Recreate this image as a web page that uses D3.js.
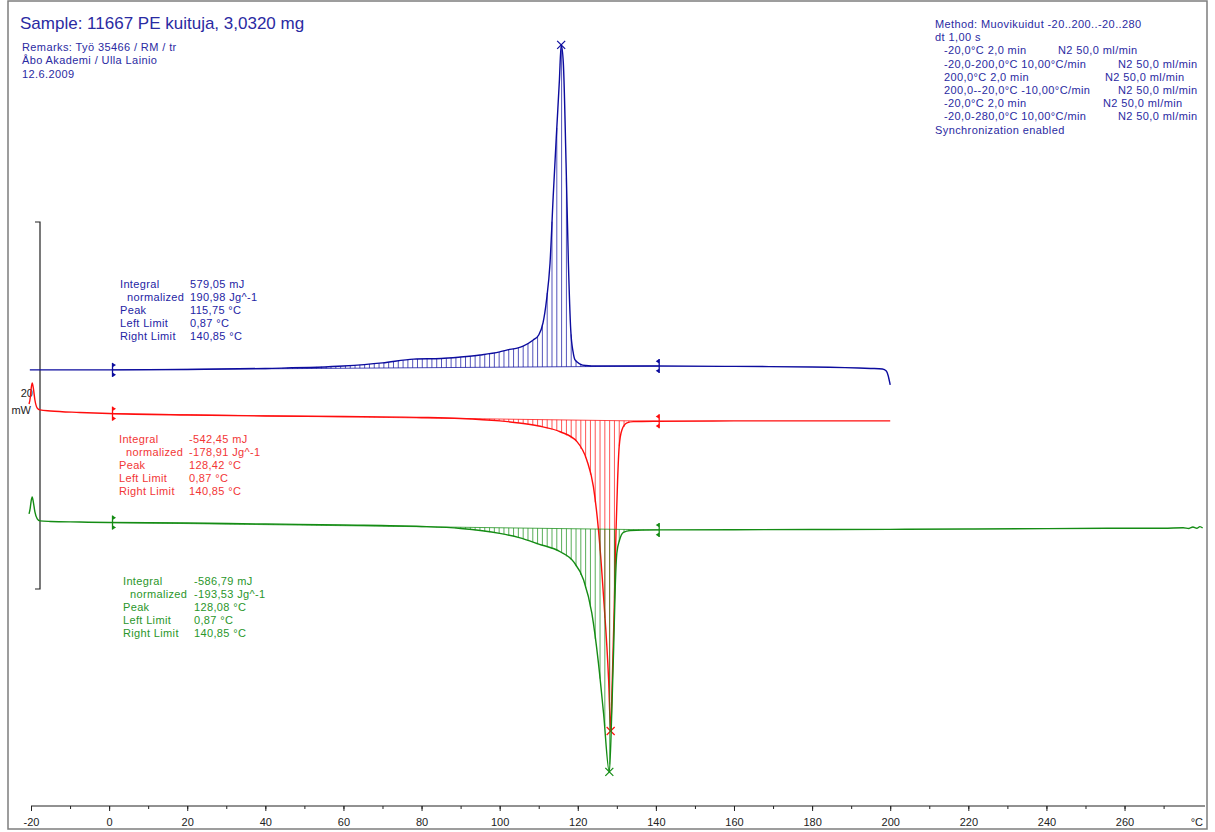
<!DOCTYPE html>
<html>
<head>
<meta charset="utf-8">
<script src="https://cdn.jsdelivr.net/npm/d3@7"></script>
<style>
  body { margin: 0; background: #fff; }
  svg text { font-family: "Liberation Sans", Arial, sans-serif; }
</style>
</head>
<body>
<svg id="chart" width="1215" height="832"></svg>
<script>
// values: temperature in °C, heat flow in mW
// (mW measured on the grid of the 20 mW scale bar, curves keep their offsets)
const blueTemp = [-20.3, -20, 0, 20, 40, 60, 70, 78, 85, 90, 95, 100, 102, 104.5, 106, 108.6, 110, 111.1, 112, 112.9,
  113.7, 114.6, 115.3, 115.75, 116.3, 117.0, 117.6, 118.2, 118.8, 119.3, 120.6, 122, 125, 140, 160, 180, 195, 198, 199, 199.5, 200]
const blueHF = [11.94, 11.94, 11.94, 11.96, 12.02, 12.15, 12.32, 12.53, 12.56, 12.64, 12.75, 12.92, 13.03, 13.13, 13.24, 13.57,
  13.84, 14.50, 15.75, 17.77, 21.36, 25.01, 27.74, 29.65, 28.67, 23.22, 17.77, 14.11, 12.92, 12.48, 12.26, 12.18, 12.15, 12.15,
  12.13, 12.10, 12.02, 11.99, 11.88, 11.61, 11.12]

const redTemp = [-20.5, -20.2, -20, -19.7, -19.4, -19, -18.4, -17.7, -15, -7.5, 0, 20, 40, 60, 80, 90, 100, 105, 110, 115.5,
  119.8, 122.3, 124.0, 125.3, 126.6, 127.9, 128.42, 128.7, 129.3, 129.8, 130.2, 130.6, 131.3, 132.6, 134.2, 140, 160, 180, 200]
const redHF = [10.08, 10.41, 10.85, 11.23, 10.95, 10.30, 9.86, 9.76, 9.70, 9.62, 9.56, 9.48, 9.43, 9.40, 9.35, 9.29, 9.16, 9.05,
  8.88, 8.57, 8.03, 7.03, 5.58, 3.22, -0.42, -4.96, -7.74, -6.05, -1.31, 3.22, 5.94, 7.76, 8.67, 9.05, 9.12, 9.14, 9.16, 9.16, 9.16]

const greenTemp = [-20.5, -20.2, -20, -19.7, -19.4, -19, -18.4, -17.7, -15, -7.5, 0, 20, 40, 60, 80, 90, 100, 105, 110, 115.5,
  118.9, 121.5, 123.6, 125.3, 126.6, 128.08, 128.7, 129.2, 129.6, 130.0, 130.7, 131.7, 133.4, 140, 160, 180, 200, 220, 240, 260,
  270, 275, 276.5, 277.5, 278.5, 279.3, 280]
const greenHF = [4.09, 4.41, 4.74, 5.01, 4.74, 4.20, 3.82, 3.71, 3.68, 3.65, 3.62, 3.60, 3.54, 3.49, 3.41, 3.30, 3.03, 2.80, 2.45,
  2.03, 1.49, 0.49, -1.32, -4.05, -6.77, -9.97, -6.76, -3.14, 0.13, 1.95, 2.67, 3.09, 3.18, 3.22, 3.23, 3.24, 3.25, 3.27, 3.29,
  3.31, 3.31, 3.34, 3.30, 3.38, 3.31, 3.40, 3.32]

const curveNames = ["heating 1", "cooling", "heating 2"]
const leftLimit = 0.87
const rightLimit = 140.85
const peakTemps = [115.75, 128.42, 128.08]

const resultLabels = ["Integral", "normalized", "Peak", "Left Limit", "Right Limit"]
const blueResults = ["579,05 mJ", "190,98 Jg^-1", "115,75 °C", "0,87 °C", "140,85 °C"]
const redResults = ["-542,45 mJ", "-178,91 Jg^-1", "128,42 °C", "0,87 °C", "140,85 °C"]
const greenResults = ["-586,79 mJ", "-193,53 Jg^-1", "128,08 °C", "0,87 °C", "140,85 °C"]

const titleText = "Sample: 11667 PE kuituja, 3,0320 mg"
const remarkLines = ["Remarks: Työ 35466 / RM / tr", "Åbo Akademi / Ulla Lainio", "12.6.2009"]
const methodSteps = ["Method: Muovikuidut -20..200..-20..280", "dt 1,00 s", "-20,0°C 2,0 min", "-20,0-200,0°C 10,00°C/min",
  "200,0°C 2,0 min", "200,0--20,0°C -10,00°C/min", "-20,0°C 2,0 min", "-20,0-280,0°C 10,00°C/min", "Synchronization enabled"]
const methodGas = ["", "", "N2 50,0 ml/min", "N2 50,0 ml/min", "N2 50,0 ml/min", "N2 50,0 ml/min", "N2 50,0 ml/min", "N2 50,0 ml/min", ""]

const minorTicks = d3.range(-20, 271, 10)
const majorTicks = d3.range(-20, 261, 20)

// ---- drawing ----
const svg = d3.select("#chart")

const x = d3.scaleLinear().domain([-20, 280.6]).range([31, 1205])
const y = d3.scaleLinear().domain([0, 20]).range([589, 222])

const curves = [
  { name: curveNames[0], t: blueTemp, v: blueHF, color: "#0c0c9e", text: "#2424a4", res: blueResults, lx: 120, vx: 190, ty: 288 },
  { name: curveNames[1], t: redTemp, v: redHF, color: "#ff0d0d", text: "#f23636", res: redResults, lx: 119, vx: 189, ty: 443 },
  { name: curveNames[2], t: greenTemp, v: greenHF, color: "#148c14", text: "#2a962a", res: greenResults, lx: 123, vx: 194, ty: 585 }
]

function valueAt(c, t) {
  let i = d3.bisectLeft(c.t, t)
  if (i <= 0) return c.v[0]
  if (i >= c.t.length) return c.v[c.v.length - 1]
  let f = (t - c.t[i - 1]) / (c.t[i] - c.t[i - 1])
  return c.v[i - 1] + f * (c.v[i] - c.v[i - 1])
}

// frame
svg.append("rect").attr("x", 8).attr("y", 1).attr("width", 1199).attr("height", 828)
  .attr("fill", "none").attr("stroke", "#7d7d7d").attr("stroke-width", 1.5)

// x axis, minor and major ticks
const axisY = 806
svg.append("g").attr("transform", `translate(0,${axisY})`)
  .call(d3.axisBottom(x).tickValues(minorTicks).tickSize(3).tickFormat("").tickSizeOuter(0))
  .call(g => g.select(".domain").remove())
  .selectAll("line").attr("stroke", "#222")
svg.append("g").attr("transform", `translate(0,${axisY})`)
  .call(d3.axisBottom(x).tickValues(majorTicks).tickSize(5).tickPadding(7).tickSizeOuter(0).tickFormat(d => String(d)))
  .call(g => g.select(".domain").attr("stroke", "#222").attr("d", `M${x.range()[0]},0H${x.range()[1]}`))
  .call(g => g.selectAll("line").attr("stroke", "#222"))
  .call(g => g.selectAll("text").attr("font-size", 11).attr("fill", "#222").attr("font-family", "Liberation Sans, Arial, sans-serif"))
svg.append("text").attr("x", 1203).attr("y", 826).attr("text-anchor", "end")
  .attr("font-size", 11).attr("fill", "#222").text("°C")

// 20 mW scale bar
svg.append("path").attr("d", `M35,${y(20)}H40V${y(0)}H35`).attr("fill", "none").attr("stroke", "#222").attr("stroke-width", 1.2)
svg.append("text").attr("x", 33).attr("y", 397).attr("text-anchor", "end").attr("font-size", 11).attr("fill", "#222").text("20")
svg.append("text").attr("x", 31).attr("y", 414).attr("text-anchor", "end").attr("font-size", 11).attr("fill", "#222").text("mW")

const line = d3.line().x(d => x(d[0])).y(d => y(d[1])).curve(d3.curveMonotoneX)

curves.forEach((c, k) => {
  const g = svg.append("g")
  const b0 = valueAt(c, leftLimit)
  const b1 = valueAt(c, rightLimit)
  const base = t => b0 + (t - leftLimit) / (rightLimit - leftLimit) * (b1 - b0)

  // integration hatch
  const hatchT = d3.range(leftLimit + 0.6, rightLimit, 1.23)
  g.selectAll(".hatch").data(hatchT).join("line")
    .attr("x1", t => x(t)).attr("x2", t => x(t))
    .attr("y1", t => y(base(t))).attr("y2", t => y(valueAt(c, t)))
    .attr("stroke", c.color).attr("stroke-opacity", 0.7).attr("stroke-width", 1)
  g.append("line").attr("x1", x(leftLimit)).attr("x2", x(rightLimit))
    .attr("y1", y(b0)).attr("y2", y(b1)).attr("stroke", c.color).attr("stroke-opacity", 0.75).attr("stroke-width", 1)

  // curve
  g.append("path").datum(c.t.map((t, i) => [t, c.v[i]])).attr("d", line)
    .attr("fill", "none").attr("stroke", c.color).attr("stroke-width", 1.4)

  // limit markers
  ;[[leftLimit, b0, 1], [rightLimit, b1, -1]].forEach(([t, v, dir]) => {
    const px = x(t), py = y(v)
    g.append("path").attr("d", `M${px},${py - 7}V${py + 7}`).attr("stroke", c.color).attr("stroke-width", 1.3)
    g.append("path")
      .attr("d", `M${px},${py - 7}l${3.5 * dir},2.2l${-3.5 * dir},2.2Z M${px},${py + 7}l${3.5 * dir},-2.2l${-3.5 * dir},-2.2Z`)
      .attr("fill", c.color)
  })

  // peak cross
  const pk = [x(peakTemps[k]), y(valueAt(c, peakTemps[k]))]
  g.append("path").attr("d", `M${pk[0] - 4},${pk[1] - 4}L${pk[0] + 4},${pk[1] + 4}M${pk[0] - 4},${pk[1] + 4}L${pk[0] + 4},${pk[1] - 4}`)
    .attr("stroke", c.color).attr("stroke-width", 1.2)

  // evaluation results
  resultLabels.forEach((lab, i) => {
    const ty = c.ty + i * 13.1
    g.append("text").attr("x", c.lx + (i === 1 ? 7 : 0)).attr("y", ty).attr("font-size", 11)
      .attr("letter-spacing", 0.35).attr("fill", c.text).text(lab)
    g.append("text").attr("x", c.vx).attr("y", ty).attr("font-size", 11)
      .attr("letter-spacing", 0.35).attr("fill", c.text).text(c.res[i])
  })
})

// header texts
const ink = "#2a2aa2"
svg.append("text").attr("x", 20).attr("y", 29).attr("font-size", 17).attr("fill", ink).text(titleText)
remarkLines.forEach((s, i) => {
  svg.append("text").attr("x", 22).attr("y", 50.5 + i * 13.5).attr("font-size", 11)
    .attr("letter-spacing", 0.4).attr("fill", ink).text(s)
})
const gasX = [0, 0, 1058, 1118, 1105, 1118, 1103, 1118, 0]
methodSteps.forEach((s, i) => {
  const indent = (i >= 2 && i <= 7) ? 944 : 935
  const ty = 28 + i * 13.2
  svg.append("text").attr("x", indent).attr("y", ty).attr("font-size", 11)
    .attr("letter-spacing", 0.4).attr("fill", ink).text(s)
  if (methodGas[i]) {
    svg.append("text").attr("x", gasX[i]).attr("y", ty).attr("font-size", 11)
      .attr("letter-spacing", 0.4).attr("fill", ink).text(methodGas[i])
  }
})
</script>
</body>
</html>
